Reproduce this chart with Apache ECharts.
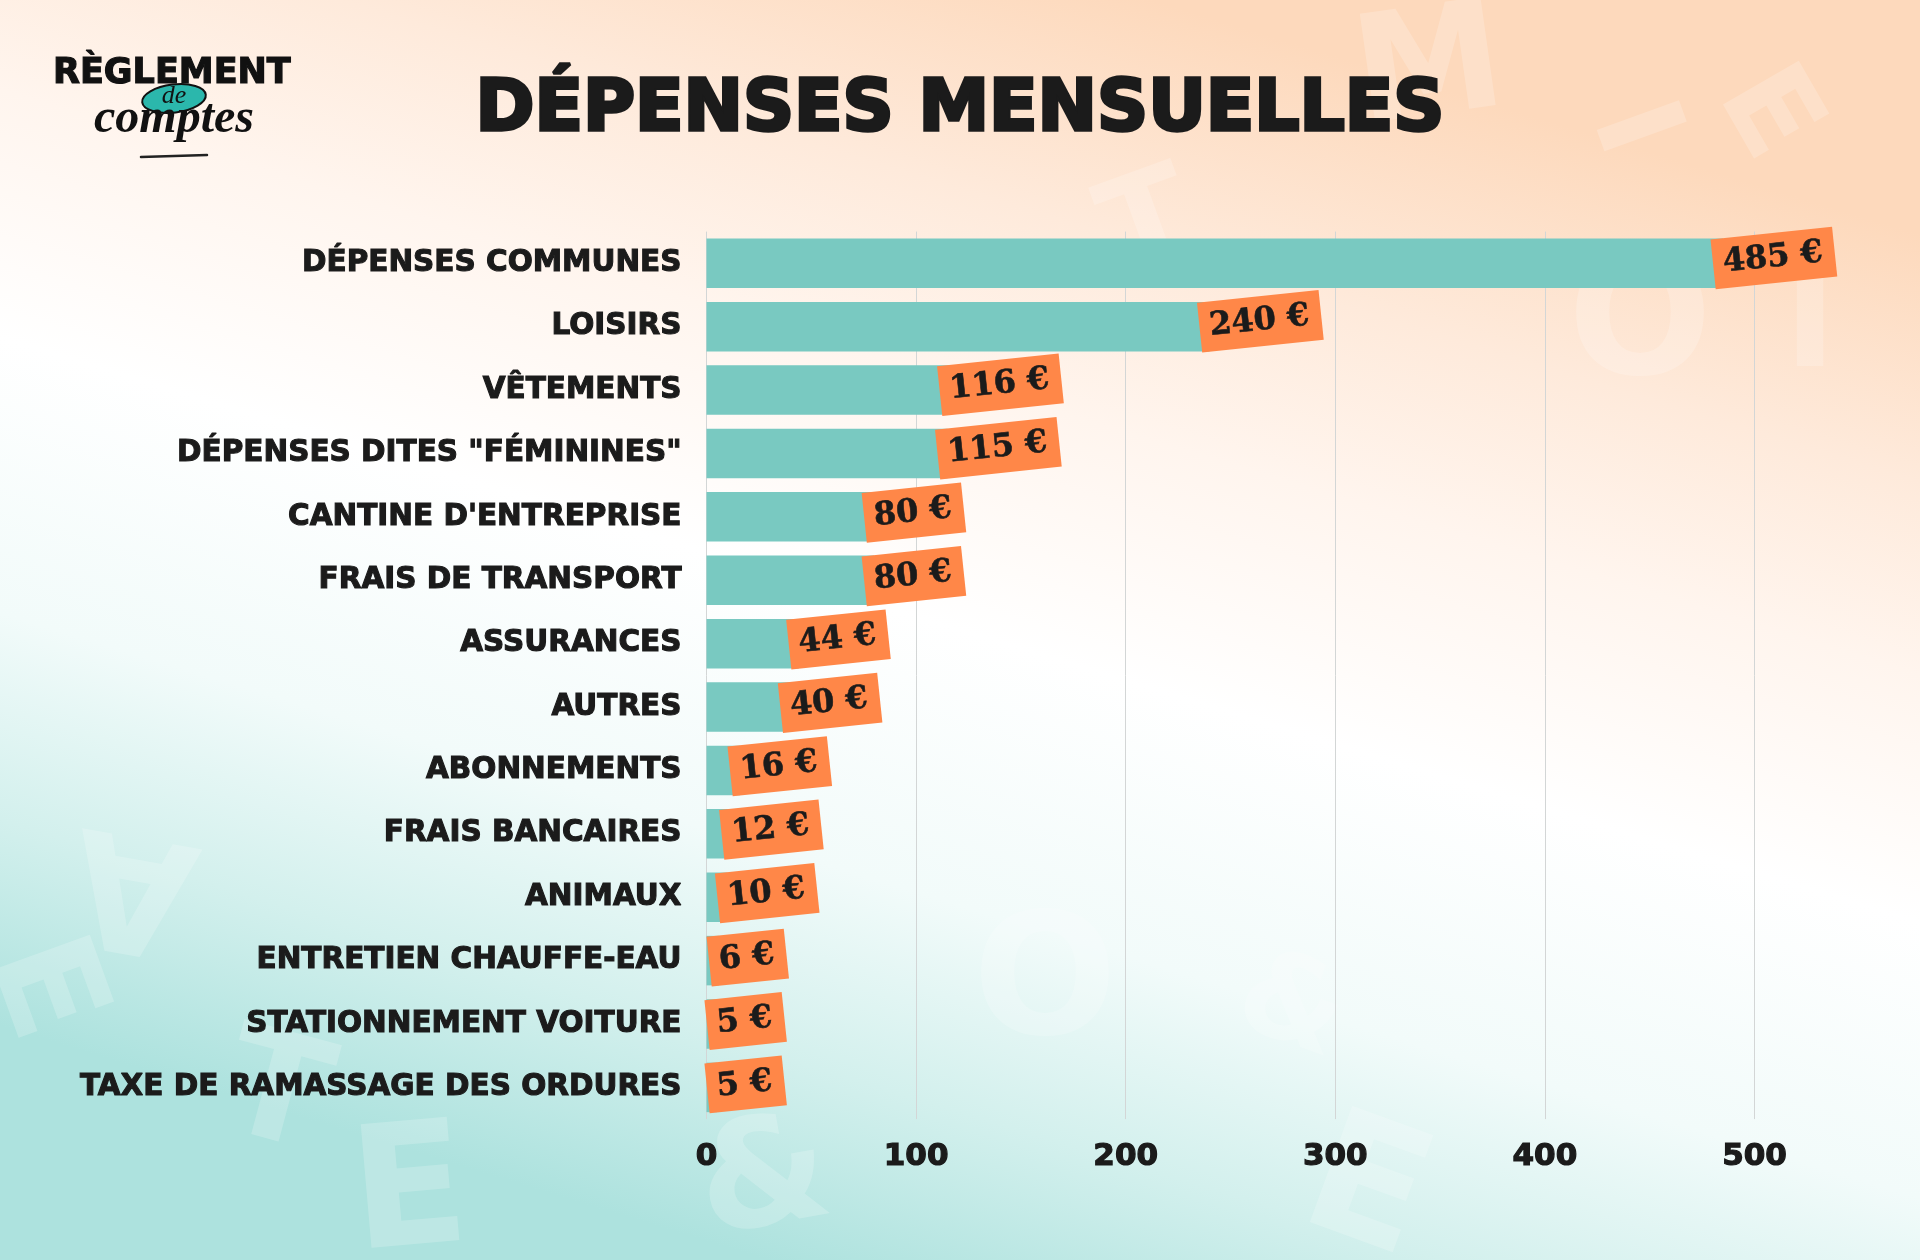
<!DOCTYPE html>
<html><head><meta charset="utf-8">
<script src="https://cdn.jsdelivr.net/npm/echarts@6/dist/echarts.min.js"></script>
<style>html,body{margin:0;padding:0;background:#fff;}#c{width:1920px;height:1260px;}</style>
</head><body><div id="c"></div>
<script>
const categories = [
  'DÉPENSES COMMUNES', 'LOISIRS', 'VÊTEMENTS', 'DÉPENSES DITES "FÉMININES"',
  "CANTINE D'ENTREPRISE", 'FRAIS DE TRANSPORT', 'ASSURANCES', 'AUTRES',
  'ABONNEMENTS', 'FRAIS BANCAIRES', 'ANIMAUX', 'ENTRETIEN CHAUFFE-EAU',
  'STATIONNEMENT VOITURE', 'TAXE DE RAMASSAGE DES ORDURES'
];
const values = [485, 240, 116, 115, 80, 80, 44, 40, 16, 12, 10, 6, 5, 5];
const tickLabels = ['0', '100', '200', '300', '400', '500'];
const titleText = 'DÉPENSES MENSUELLES';
// decorative faint background letters: [char, x, y, size, rotationDeg]
const bgLetters = [
  ['M', 1430, 75, 150, 8], ['I', 1630, 130, 120, -70], ['E', 1765, 115, 120, -60],
  ['O', 1640, 330, 170, 0], ['I', 1810, 330, 140, 0], ['O', 1045, 990, 170, 0],
  ['&', 765, 1185, 150, 10], ['E', 410, 1200, 170, 5], ['E', 1365, 1195, 170, -20],
  ['A', 135, 880, 160, 170], ['E', 40, 990, 140, -70], ['T', 275, 1100, 150, -15],
  ['&', 1290, 1010, 120, -20], ['T', 1150, 230, 130, 20]
];

const chart = echarts.init(document.getElementById('c'), null, {renderer: 'canvas'});
const SANS = '"DejaVu Sans", Inter, sans-serif';
const SERIF = '"DejaVu Serif", serif';
const INK = '#1b1b1b';

const graphics = bgLetters.map(([ch, x, y, s, r]) => ({
  type: 'text', x: x, y: y, rotation: r * Math.PI / 180, z: -10, silent: true,
  style: {text: ch, fontSize: s, fontWeight: 'bold', fontFamily: SANS, fill: 'rgba(255,255,255,0.2)',
    align: 'center', verticalAlign: 'middle'}
}));

graphics.push(
  {
    type: 'text', x: 960, y: 112,
    style: {text: titleText, fontSize: 71, fontWeight: 'bold', fontFamily: SANS, fill: INK,
      align: 'center', verticalAlign: 'middle', stroke: INK, lineWidth: 3.5}
  },
  {
    type: 'text', x: 53, y: 74,
    style: {text: 'RÈGLEMENT', fontSize: 35, fontWeight: 'bold', fontFamily: SANS, fill: '#111',
      align: 'left', verticalAlign: 'middle', stroke: '#111', lineWidth: 1.2,
      shadowColor: 'rgba(245,160,100,0.8)', shadowBlur: 3, shadowOffsetY: 2}
  },
  {
    type: 'ellipse', shape: {cx: 174, cy: 98.5, rx: 32, ry: 14}, rotation: 0.12, originX: 174, originY: 98.5,
    style: {fill: '#2bb7ac', stroke: '#111', lineWidth: 2}
  },
  {
    type: 'text', x: 174, y: 96,
    style: {text: 'de', fontSize: 26, fontStyle: 'italic', fontFamily: '"Liberation Serif", serif',
      fill: '#111', align: 'center', verticalAlign: 'middle'}
  },
  {
    type: 'text', x: 174, y: 120,
    style: {text: 'comptes', fontSize: 48, fontStyle: 'italic', fontWeight: 'bold', fontFamily: '"Liberation Serif", serif',
      fill: '#111', align: 'center', verticalAlign: 'middle',
      shadowColor: 'rgba(245,160,100,0.8)', shadowBlur: 3, shadowOffsetY: 2}
  },
  {
    type: 'line', shape: {x1: 141, y1: 157, x2: 207, y2: 155},
    style: {stroke: '#222', lineWidth: 2.5, lineCap: 'round'}
  }
);

chart.setOption({
  backgroundColor: {
    type: 'linear', x: 0.6, y: 0, x2: 0.4, y2: 1,
    colorStops: [
      {offset: 0, color: '#fdd9bc'},
      {offset: 0.18, color: '#feeadb'},
      {offset: 0.32, color: '#fff5ee'},
      {offset: 0.5, color: '#ffffff'},
      {offset: 0.7, color: '#f2fbfa'},
      {offset: 0.85, color: '#d3f0ed'},
      {offset: 1, color: '#ade2de'}
    ]
  },
  animation: false,
  grid: {left: 706.5, top: 231.6, width: 1048, height: 887.5, containLabel: false},
  xAxis: {
    type: 'value', min: 0, max: 500, interval: 100,
    axisLine: {show: false}, axisTick: {show: false},
    splitLine: {show: true, lineStyle: {color: '#d3d6d6', width: 1}},
    axisLabel: {
      margin: 22, fontSize: 31, fontWeight: 'bold', fontFamily: SANS, color: INK,
      textBorderColor: INK, textBorderWidth: 1.2,
      formatter: (v) => tickLabels[Math.round(v / 100)] || ''
    }
  },
  yAxis: {
    type: 'category', data: categories, inverse: true,
    axisLine: {show: false}, axisTick: {show: false},
    axisLabel: {margin: 25, fontSize: 29.5, fontWeight: 'bold', fontFamily: SANS, color: INK,
      textBorderColor: INK, textBorderWidth: 1.1}
  },
  series: [{
    type: 'bar', data: values, barWidth: 49.5,
    itemStyle: {color: '#79c9c1'},
    label: {
      show: true, position: 'right', distance: 0, offset: [-10, 0], rotate: 6,
      formatter: (p) => p.value + '\u00a0€',
      backgroundColor: '#ff8748',
      padding: [7, 12, 7, 10],
      fontSize: 32, lineHeight: 36, fontWeight: 'bold',
      fontFamily: SERIF, color: INK, textBorderColor: INK, textBorderWidth: 0.6
    }
  }],
  graphic: graphics
});
</script></body></html>
